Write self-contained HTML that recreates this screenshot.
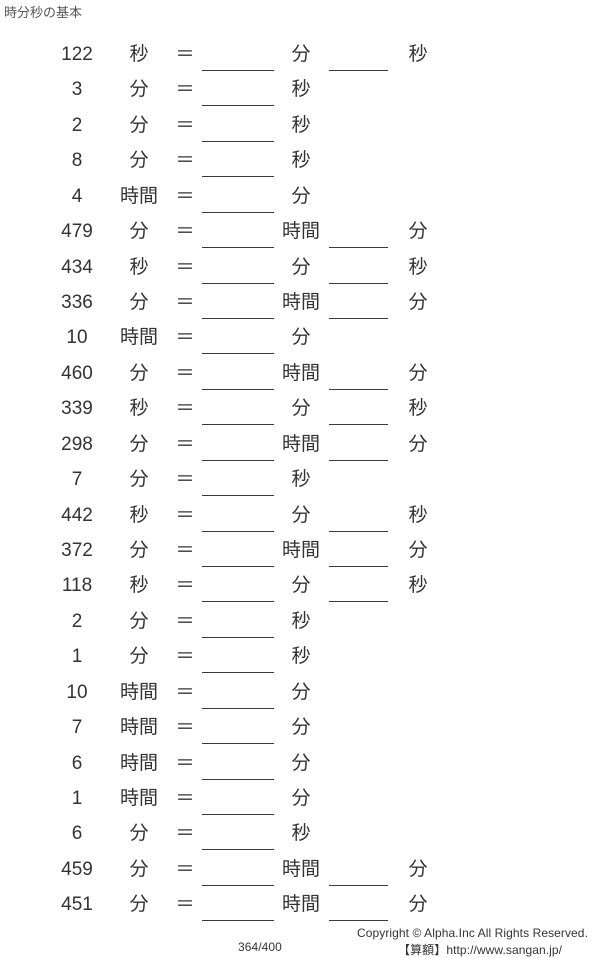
<!DOCTYPE html>
<html><head><meta charset="utf-8"><style>
body{margin:0;width:600px;height:958px;background:#fff;position:relative;overflow:hidden;font-family:"Liberation Sans","Noto Sans CJK JP",sans-serif;color:#333}
.t{position:absolute;left:4px;top:2px;font-size:13px;color:#555}
.r{position:absolute;left:0;width:600px;height:24px;font-size:19px;line-height:24px;margin-top:2px}
.r span{position:absolute;top:0;text-align:center}
.n{left:47px;width:60px}
.u{left:109px;width:60px}
.e{left:170px;width:30px}
.u2{left:271px;width:60px}
.u3{left:388px;width:60px}
.l1,.l2{position:absolute;top:27px;height:0;border-top:1.6px solid #3a3a3a}
.l1{left:202px;width:72px}
.l2{left:329px;width:59px}
.c{position:absolute;font-size:12px;color:#333;letter-spacing:0.08px}
</style></head><body>
<div class="t">時分秒の基本</div>
<div class="r" style="top:41px"><span class="n">122</span><span class="u">秒</span><span class="e">＝</span><i class="l1"></i><span class="u2">分</span><i class="l2"></i><span class="u3">秒</span></div>
<div class="r" style="top:76px"><span class="n">3</span><span class="u">分</span><span class="e">＝</span><i class="l1"></i><span class="u2">秒</span></div>
<div class="r" style="top:112px"><span class="n">2</span><span class="u">分</span><span class="e">＝</span><i class="l1"></i><span class="u2">秒</span></div>
<div class="r" style="top:147px"><span class="n">8</span><span class="u">分</span><span class="e">＝</span><i class="l1"></i><span class="u2">秒</span></div>
<div class="r" style="top:183px"><span class="n">4</span><span class="u">時間</span><span class="e">＝</span><i class="l1"></i><span class="u2">分</span></div>
<div class="r" style="top:218px"><span class="n">479</span><span class="u">分</span><span class="e">＝</span><i class="l1"></i><span class="u2">時間</span><i class="l2"></i><span class="u3">分</span></div>
<div class="r" style="top:254px"><span class="n">434</span><span class="u">秒</span><span class="e">＝</span><i class="l1"></i><span class="u2">分</span><i class="l2"></i><span class="u3">秒</span></div>
<div class="r" style="top:289px"><span class="n">336</span><span class="u">分</span><span class="e">＝</span><i class="l1"></i><span class="u2">時間</span><i class="l2"></i><span class="u3">分</span></div>
<div class="r" style="top:324px"><span class="n">10</span><span class="u">時間</span><span class="e">＝</span><i class="l1"></i><span class="u2">分</span></div>
<div class="r" style="top:360px"><span class="n">460</span><span class="u">分</span><span class="e">＝</span><i class="l1"></i><span class="u2">時間</span><i class="l2"></i><span class="u3">分</span></div>
<div class="r" style="top:395px"><span class="n">339</span><span class="u">秒</span><span class="e">＝</span><i class="l1"></i><span class="u2">分</span><i class="l2"></i><span class="u3">秒</span></div>
<div class="r" style="top:431px"><span class="n">298</span><span class="u">分</span><span class="e">＝</span><i class="l1"></i><span class="u2">時間</span><i class="l2"></i><span class="u3">分</span></div>
<div class="r" style="top:466px"><span class="n">7</span><span class="u">分</span><span class="e">＝</span><i class="l1"></i><span class="u2">秒</span></div>
<div class="r" style="top:502px"><span class="n">442</span><span class="u">秒</span><span class="e">＝</span><i class="l1"></i><span class="u2">分</span><i class="l2"></i><span class="u3">秒</span></div>
<div class="r" style="top:537px"><span class="n">372</span><span class="u">分</span><span class="e">＝</span><i class="l1"></i><span class="u2">時間</span><i class="l2"></i><span class="u3">分</span></div>
<div class="r" style="top:572px"><span class="n">118</span><span class="u">秒</span><span class="e">＝</span><i class="l1"></i><span class="u2">分</span><i class="l2"></i><span class="u3">秒</span></div>
<div class="r" style="top:608px"><span class="n">2</span><span class="u">分</span><span class="e">＝</span><i class="l1"></i><span class="u2">秒</span></div>
<div class="r" style="top:643px"><span class="n">1</span><span class="u">分</span><span class="e">＝</span><i class="l1"></i><span class="u2">秒</span></div>
<div class="r" style="top:679px"><span class="n">10</span><span class="u">時間</span><span class="e">＝</span><i class="l1"></i><span class="u2">分</span></div>
<div class="r" style="top:714px"><span class="n">7</span><span class="u">時間</span><span class="e">＝</span><i class="l1"></i><span class="u2">分</span></div>
<div class="r" style="top:750px"><span class="n">6</span><span class="u">時間</span><span class="e">＝</span><i class="l1"></i><span class="u2">分</span></div>
<div class="r" style="top:785px"><span class="n">1</span><span class="u">時間</span><span class="e">＝</span><i class="l1"></i><span class="u2">分</span></div>
<div class="r" style="top:820px"><span class="n">6</span><span class="u">分</span><span class="e">＝</span><i class="l1"></i><span class="u2">秒</span></div>
<div class="r" style="top:856px"><span class="n">459</span><span class="u">分</span><span class="e">＝</span><i class="l1"></i><span class="u2">時間</span><i class="l2"></i><span class="u3">分</span></div>
<div class="r" style="top:891px"><span class="n">451</span><span class="u">分</span><span class="e">＝</span><i class="l1"></i><span class="u2">時間</span><i class="l2"></i><span class="u3">分</span></div>
<div class="c" style="left:357px;top:926px">Copyright © Alpha.Inc All Rights Reserved.</div>
<div class="c" style="left:238px;top:940px">364/400</div>
<div class="c" style="left:398px;top:941px">【算額】http://www.sangan.jp/</div>
</body></html>
